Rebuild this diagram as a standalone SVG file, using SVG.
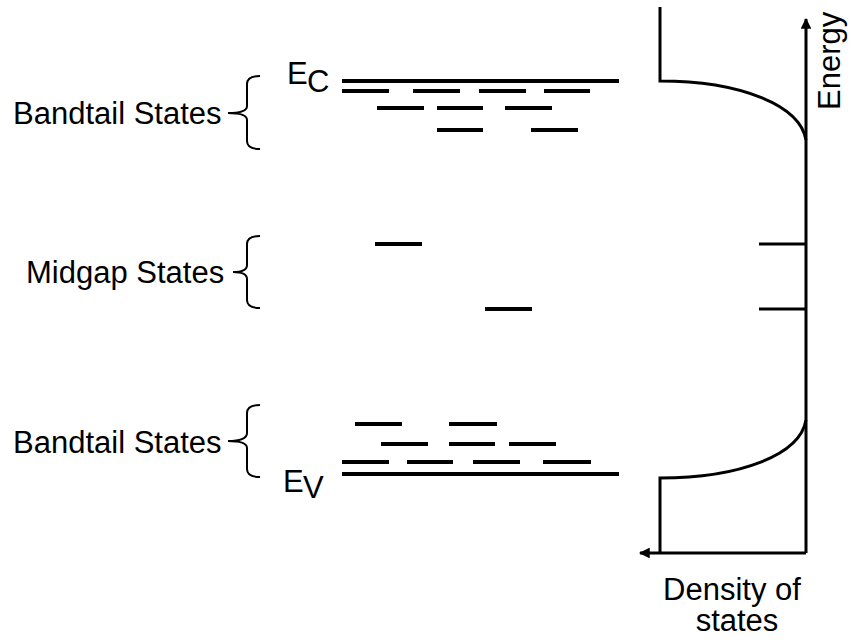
<svg xmlns="http://www.w3.org/2000/svg" width="851" height="644" viewBox="0 0 851 644">
  <style>
    .lbl { font-family: "Liberation Sans", Arial, sans-serif; font-size: 31px; fill: #000; }
    .lvl { stroke: #000; stroke-width: 4; fill: none; }
    .brace { stroke: #000; stroke-width: 2; fill: none; }
    .axis { stroke: #000; stroke-width: 3; fill: none; }
    .dos { stroke: #000; stroke-width: 3; fill: none; }
  </style>
  <defs>
    <marker id="arrow" viewBox="0 0 10 10" refX="9" refY="5" markerWidth="4" markerHeight="3.6" orient="auto" markerUnits="strokeWidth">
      <path d="M0,0 L10,5 L0,10 z" fill="#000"/>
    </marker>
  </defs>
  <rect width="851" height="644" fill="#fff"/>

  <!-- conduction band edge and its tail states -->
  <g id="conduction-band">
    <line class="lvl" x1="342" y1="81" x2="619" y2="81"/>
    <text class="lbl" x="287" y="84" font-size="30">E</text>
    <text class="lbl" x="307" y="92" font-size="25">C</text>
  </g>
  <g id="conduction-tail-states">
    <path class="lvl" d="M342,91 H389 M413,91 H460 M479,91 H526 M544,91 H590
                         M377,108 H424 M437,108 H483 M505,108 H552
                         M437,130 H483 M531,130 H578"/>
  </g>

  <!-- midgap states -->
  <g id="midgap-states">
    <path class="lvl" d="M375,244 H422 M485,309 H532"/>
  </g>

  <!-- valence band edge and its tail states -->
  <g id="valence-tail-states">
    <path class="lvl" d="M355,424 H402 M449,424 H497
                         M381,444 H428 M449,444 H495 M509,444 H556
                         M342,462 H389 M407,462 H453 M473,462 H520 M543,462 H591"/>
  </g>
  <g id="valence-band">
    <line class="lvl" x1="342" y1="474" x2="619" y2="474"/>
    <text class="lbl" x="283" y="492" font-size="30">E</text>
    <text class="lbl" x="303" y="498" font-size="24">V</text>
  </g>

  <!-- group labels with braces -->
  <g id="label-upper-bandtail">
    <text class="lbl" x="13" y="124">Bandtail States</text>
    <path class="brace" d="M260,76 Q247,76 247,84 V106 Q247,113 228,113 Q247,113 247,120 V141 Q247,149 260,149"/>
  </g>
  <g id="label-midgap">
    <text class="lbl" x="26" y="283">Midgap States</text>
    <path class="brace" d="M260,236 Q247,236 247,244 V265 Q247,272 233,272 Q247,272 247,279 V300 Q247,308 260,308"/>
  </g>
  <g id="label-lower-bandtail">
    <text class="lbl" x="13" y="453">Bandtail States</text>
    <path class="brace" d="M260,405 Q247,405 247,413 V433 Q247,441 228,441 Q247,441 247,448 V469 Q247,477 260,477"/>
  </g>

  <!-- density of states plot -->
  <g id="dos-curve">
    <path class="dos" d="M660,7 V81 C740,81 800,105 806,140"/>
    <path class="dos" d="M806,420 C800,455 740,478 660,478 V553"/>
    <path class="dos" d="M759,244 H806 M759,309 H806"/>
  </g>

  <g id="axes">
    <line class="axis" x1="806" y1="553" x2="806" y2="19" marker-end="url(#arrow)"/>
    <line class="axis" x1="806" y1="553" x2="640" y2="553" marker-end="url(#arrow)"/>
    <text class="lbl" transform="translate(840,110) rotate(-90)">Energy</text>
    <text class="lbl" x="732" y="600" text-anchor="middle">Density of</text>
    <text class="lbl" x="737" y="631" text-anchor="middle">states</text>
  </g>
</svg>
